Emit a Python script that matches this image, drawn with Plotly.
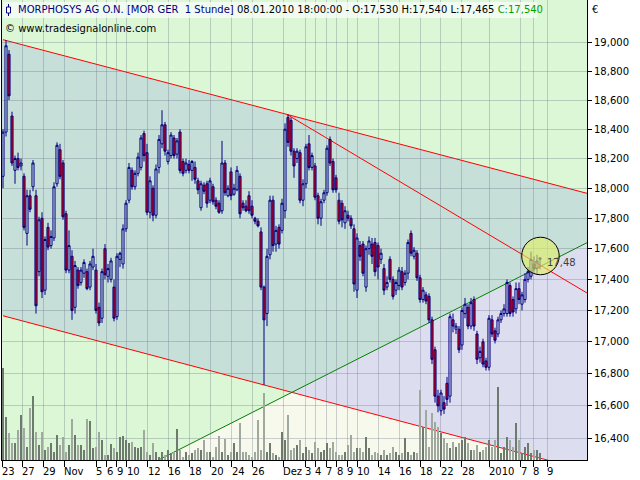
import math
import plotly.graph_objects as go

# ---------------- data ----------------
opens = [18.08, 18.38, 18.92, 18.49, 18.12, 18.20, 18.15, 18.08, 17.70, 17.95,
         18.01, 17.95, 17.45, 17.80, 17.33, 17.74, 17.62, 17.67, 18.03, 18.26,
         18.17, 17.83, 17.46, 17.55, 17.22, 17.46, 17.38, 17.44, 17.45, 17.35,
         17.48, 17.46, 17.22, 17.15, 17.60, 17.42, 17.40, 17.35, 17.16, 17.53,
         17.50, 17.73, 17.92, 18.12, 18.01, 18.10, 18.14, 18.37, 18.24, 17.84,
         18.00, 17.82, 18.14, 18.30, 18.43, 18.18, 18.22, 18.34, 18.23, 18.38,
         18.18, 18.12, 18.16, 18.12, 18.14, 18.05, 17.87, 18.02, 18.03, 17.92,
         18.01, 17.92, 17.90, 17.85, 18.17, 17.95, 18.11, 17.96, 17.99, 18.08,
         17.90, 17.88, 17.95, 17.88, 17.80, 17.78, 17.71, 17.35, 17.18, 17.56,
         17.92, 17.63, 17.74, 17.72, 17.85, 18.48, 18.46, 18.25, 18.20, 18.24,
         17.92, 18.03, 18.30, 18.14, 18.15, 17.95, 17.80, 17.92, 17.97, 18.33,
         18.18, 18.07, 17.92, 17.90, 17.77, 17.82, 17.80, 17.73, 17.33, 17.62,
         17.63, 17.35, 17.60, 17.63, 17.64, 17.62, 17.53, 17.47, 17.35, 17.53,
         17.40, 17.33, 17.36, 17.45, 17.38, 17.44, 17.70, 17.55, 17.57, 17.41,
         17.27, 17.30, 17.29, 17.14, 16.95, 16.66, 16.57, 16.62, 16.74, 16.66,
         17.14, 17.08, 17.08, 16.98, 17.18, 17.22, 17.10, 17.27, 17.05, 16.90,
         17.00, 16.88, 16.84, 17.14, 17.07, 17.05, 17.14, 17.18, 17.18, 17.36,
         17.27, 17.21, 17.34, 17.24, 17.27, 17.40, 17.42, 17.50, 17.47, 17.53]
highs = [18.40, 19.02, 18.95, 18.52, 18.22, 18.24, 18.20, 18.10, 17.99, 17.99,
         18.19, 17.99, 17.81, 17.84, 17.68, 17.77, 17.72, 18.04, 18.31, 18.30,
         18.19, 17.85, 17.72, 17.59, 17.52, 17.48, 17.48, 17.53, 17.47, 17.52,
         17.60, 17.50, 17.25, 17.47, 17.63, 17.50, 17.54, 17.40, 17.57, 17.58,
         17.76, 17.92, 18.17, 18.14, 18.12, 18.24, 18.36, 18.39, 18.30, 18.08,
         18.02, 18.16, 18.36, 18.53, 18.45, 18.26, 18.38, 18.36, 18.34, 18.40,
         18.20, 18.20, 18.19, 18.19, 18.18, 18.07, 18.05, 18.04, 18.05, 18.07,
         18.03, 17.94, 17.92, 18.32, 18.19, 18.02, 18.14, 18.03, 18.15, 18.10,
         17.92, 17.92, 17.98, 17.92, 17.81, 17.80, 17.74, 17.36, 17.60, 17.95,
         17.95, 17.75, 17.76, 17.93, 18.44, 18.50, 18.48, 18.27, 18.27, 18.26,
         18.06, 18.30, 18.36, 18.24, 18.17, 17.97, 17.93, 17.99, 18.29, 18.35,
         18.20, 18.09, 17.97, 17.92, 17.88, 17.85, 17.82, 17.76, 17.70, 17.65,
         17.65, 17.62, 17.68, 17.67, 17.67, 17.64, 17.60, 17.50, 17.42, 17.55,
         17.42, 17.40, 17.48, 17.48, 17.46, 17.66, 17.72, 17.61, 17.59, 17.43,
         17.35, 17.32, 17.31, 17.16, 16.97, 16.70, 16.70, 16.66, 16.78, 17.18,
         17.18, 17.12, 17.10, 17.22, 17.28, 17.24, 17.28, 17.29, 17.07, 16.97,
         17.02, 16.90, 17.17, 17.17, 17.09, 17.16, 17.20, 17.24, 17.40, 17.38,
         17.29, 17.38, 17.38, 17.32, 17.44, 17.48, 17.58, 17.55, 17.56, 17.54]
lows = [18.00, 18.35, 18.60, 18.15, 18.03, 18.12, 18.12, 17.72, 17.62, 17.84,
        17.98, 17.18, 17.42, 17.28, 17.30, 17.59, 17.60, 17.65, 18.01, 18.06,
        17.79, 17.44, 17.44, 17.14, 17.18, 17.34, 17.36, 17.41, 17.33, 17.33,
        17.46, 17.18, 17.10, 17.12, 17.40, 17.38, 17.38, 17.13, 17.14, 17.48,
        17.47, 17.71, 17.90, 17.99, 17.99, 18.08, 18.12, 18.18, 17.82, 17.80,
        17.78, 17.80, 18.10, 18.27, 18.22, 18.16, 18.20, 18.20, 18.20, 18.10,
        18.08, 18.10, 18.10, 18.05, 18.03, 17.96, 17.85, 17.96, 17.87, 17.90,
        17.89, 17.86, 17.83, 17.83, 17.95, 17.94, 17.92, 17.95, 17.98, 17.80,
        17.85, 17.84, 17.83, 17.80, 17.76, 17.74, 17.33, 16.73, 17.10, 17.53,
        17.58, 17.58, 17.60, 17.70, 17.80, 18.28, 18.22, 18.07, 18.17, 17.90,
        17.88, 18.00, 18.12, 18.12, 17.92, 17.76, 17.75, 17.90, 17.95, 18.15,
        17.97, 17.97, 17.76, 17.74, 17.73, 17.78, 17.73, 17.32, 17.28, 17.52,
        17.42, 17.32, 17.56, 17.50, 17.42, 17.40, 17.50, 17.30, 17.33, 17.38,
        17.27, 17.30, 17.33, 17.33, 17.36, 17.40, 17.55, 17.53, 17.39, 17.25,
        17.25, 17.24, 17.12, 16.86, 16.62, 16.56, 16.54, 16.55, 16.60, 16.62,
        17.06, 17.05, 16.93, 16.95, 17.15, 17.08, 17.08, 17.07, 16.86, 16.87,
        16.84, 16.82, 16.82, 17.03, 16.99, 17.03, 17.12, 17.16, 17.16, 17.16,
        17.16, 17.18, 17.24, 17.20, 17.25, 17.38, 17.40, 17.44, 17.43, 17.465]
closes = [18.38, 18.98, 18.63, 18.17, 18.20, 18.14, 18.17, 17.74, 17.95, 17.86,
          18.17, 17.23, 17.79, 17.32, 17.66, 17.61, 17.68, 18.01, 18.29, 18.08,
          17.81, 17.46, 17.62, 17.20, 17.49, 17.36, 17.46, 17.51, 17.34, 17.50,
          17.55, 17.20, 17.12, 17.45, 17.43, 17.47, 17.52, 17.15, 17.55, 17.57,
          17.73, 17.90, 18.14, 18.01, 18.10, 18.21, 18.34, 18.22, 17.84, 18.05,
          17.82, 18.13, 18.33, 18.43, 18.25, 18.24, 18.36, 18.22, 18.32, 18.12,
          18.10, 18.17, 18.12, 18.18, 18.06, 17.99, 18.03, 17.98, 17.90, 18.05,
          17.91, 17.88, 17.84, 18.17, 17.97, 18.00, 17.95, 18.00, 18.12, 17.83,
          17.87, 17.85, 17.85, 17.82, 17.78, 17.75, 17.35, 17.14, 17.55, 17.92,
          17.62, 17.72, 17.63, 17.90, 18.40, 18.31, 18.25, 18.15, 18.25, 17.92,
          18.03, 18.28, 18.14, 18.22, 17.94, 17.80, 17.91, 17.97, 18.27, 18.17,
          17.99, 17.99, 17.78, 17.79, 17.85, 17.80, 17.75, 17.37, 17.67, 17.55,
          17.44, 17.60, 17.65, 17.55, 17.45, 17.48, 17.57, 17.33, 17.38, 17.40,
          17.29, 17.38, 17.46, 17.35, 17.44, 17.64, 17.57, 17.59, 17.41, 17.27,
          17.33, 17.26, 17.14, 16.89, 16.66, 16.60, 16.68, 16.58, 16.64, 17.16,
          17.10, 17.10, 16.95, 17.20, 17.24, 17.10, 17.25, 17.10, 16.89, 16.94,
          16.86, 16.84, 17.15, 17.05, 17.01, 17.14, 17.18, 17.21, 17.38, 17.18,
          17.19, 17.34, 17.27, 17.30, 17.40, 17.45, 17.53, 17.47, 17.52, 17.54]
volumes = [92, 43, 27, 17, 17, 30, 45, 32, 13, 52,
           64, 28, 15, 28, 10, 13, 17, 8, 25, 15,
           23, 8, 15, 41, 25, 15, 15, 10, 41, 39,
           12, 13, 28, 20, 5, 5, 16, 12, 8, 23,
           24, 20, 17, 18, 13, 12, 13, 30, 8, 5,
           17, 8, 3, 8, 5, 10, 7, 8, 31, 10,
           3, 8, 5, 7, 10, 12, 10, 20, 8, 8,
           3, 13, 24, 8, 21, 5, 8, 17, 8, 37,
           8, 8, 5, 3, 8, 40, 10, 67, 8, 17,
           7, 5, 3, 28, 20, 45, 10, 12, 15, 20,
           7, 13, 10, 7, 18, 12, 8, 10, 17, 12,
           18, 8, 5, 5, 8, 15, 25, 8, 12, 12,
           8, 23, 12, 5, 8, 7, 5, 10, 5, 7,
           13, 8, 5, 7, 22, 8, 5, 8, 7, 70,
           33, 50, 13, 47, 38, 33, 27, 22, 17, 12,
           18, 13, 17, 20, 23, 17, 10, 10, 15, 8,
           10, 13, 20, 13, 20, 73, 7, 13, 23, 20,
           13, 37, 20, 7, 13, 17, 7, 10, 10, 7]

# date labels on the time axis (bar positions)
date_tick_pos = [-0.33, 6.43, 13.43, 20.43, 31.0, 34.57, 37.9, 41.23, 48.23, 55.1,
                 62.1, 69.23, 76.23, 83.1, 93.43, 100.67, 104.0, 107.67, 111.23, 114.77,
                 118.1, 125.1, 132.1, 139.0, 145.9, 152.9, 162.1, 172.57, 176.77, 181.43]
date_tick_labels = ["23", "27", "29", "Nov", "5", "6", "9", "10", "12", "16",
                    "18", "20", "24", "26", "Dez", "3", "4", "7", "8", "9",
                    "10", "14", "16", "18", "22", "28", "2010", "7", "8", "9"]
price_ticks = [16.4, 16.6, 16.8, 17.0, 17.2, 17.4, 17.6, 17.8, 18.0, 18.2, 18.4,
               18.6, 18.8, 19.0]

# drawing tools (bar position, price)
upper_channel = [(0.0, 19.023), (194.67, 17.966)]
lower_channel = [(0.0, 17.166), (194.67, 16.205)]
support_line = [(51.83, 16.269), (194.67, 17.639)]
resistance_line = [(94.67, 18.501), (194.67, 17.312)]
marker_level = 17.48
marker_circle_x = [172.9, 185.4]
marker_circle_y = [17.43, 17.675]

x_range = [-0.333, 194.667]
price_range = [16.269, 19.306]

title_name = "MORPHOSYS AG O.N. [MOR GER  1 Stunde]"
title_time = "08.01.2010 18:00:00"

# ---------------- helpers ----------------
def fmt3(v):
    return f"{v:.3f}".replace(".", ",")

def line_at(line, x):
    (x0, p0), (x1, p1) = line
    l0, l1 = math.log10(p0), math.log10(p1)
    return 10 ** (l0 + (l1 - l0) * (x - x0) / (x1 - x0))

def x_at(line, p):
    (x0, p0), (x1, p1) = line
    l0, l1 = math.log10(p0), math.log10(p1)
    return x0 + (math.log10(p) - l0) * (x1 - x0) / (l1 - l0)

def intersect(a, b):
    (ax0, ap0), (ax1, ap1) = a
    (bx0, bp0), (bx1, bp1) = b
    sa = (math.log10(ap1) - math.log10(ap0)) / (ax1 - ax0)
    sb = (math.log10(bp1) - math.log10(bp0)) / (bx1 - bx0)
    ia = math.log10(ap0) - sa * ax0
    ib = math.log10(bp0) - sb * bx0
    x = (ib - ia) / (sa - sb)
    return x, 10 ** (ia + sa * x)

def path(pts):
    return "M " + " L ".join(f"{x},{y}" for x, y in pts) + " Z"

idx = list(range(len(closes)))
W, H = 640, 480
ML, MR, MT, MB = 2, 53, 0, 20
PW, PH = W - ML - MR, H - MT - MB

def px(x):  # pixel -> paper x
    return (x - ML) / PW

def py(y):  # pixel -> paper y
    return (H - MB - y) / PH

GREEN_BG = "#DCF7D5"
TEAL = "#C6DFD9"
LAVENDER = "#DCDEEF"
CREAM = "#F6F9EC"

xl, xr = -2.0, 197.0
p_low = 15.9
inter = intersect(support_line, lower_channel)

shapes = []
# channel fill
shapes.append(dict(type="path", xref="x", yref="y2", layer="below", line=dict(width=0),
                   fillcolor=TEAL,
                   path=path([(xl, line_at(upper_channel, xl)), (xr, line_at(upper_channel, xr)),
                              (xr, line_at(lower_channel, xr)), (xl, line_at(lower_channel, xl))])))
# below support line
shapes.append(dict(type="path", xref="x", yref="y2", layer="below", line=dict(width=0),
                   fillcolor=CREAM,
                   path=path([(x_at(support_line, p_low), p_low), (xr, line_at(support_line, xr)),
                              (xr, p_low)])))
# below support and inside channel
shapes.append(dict(type="path", xref="x", yref="y2", layer="below", line=dict(width=0),
                   fillcolor=LAVENDER,
                   path=path([inter, (xr, line_at(support_line, xr)),
                              (xr, line_at(lower_channel, xr))])))

def seg(line, color):
    (x0, p0), (x1, p1) = line
    return dict(type="line", xref="x", yref="y2", layer="below",
                x0=x0, y0=p0, x1=x1, y1=p1, line=dict(color=color, width=1))

shapes.append(seg(upper_channel, "#FF0000"))
shapes.append(seg(lower_channel, "#FF0000"))
shapes.append(seg(resistance_line, "#FF0000"))
shapes.append(seg(support_line, "#008000"))
shapes.append(dict(type="line", xref="paper", yref="y2", layer="below",
                   x0=0, x1=1, y0=marker_level, y1=marker_level,
                   line=dict(color="#000000", width=1)))
shapes.append(dict(type="circle", xref="x", yref="y2", layer="above",
                   x0=marker_circle_x[0], x1=marker_circle_x[1],
                   y0=marker_circle_y[0], y1=marker_circle_y[1],
                   fillcolor="rgba(228,240,100,0.62)", line=dict(color="#000000", width=1)))
# header box + candle icon
shapes.append(dict(type="rect", xref="paper", yref="paper", layer="above",
                   x0=px(3), x1=px(537), y0=py(18), y1=py(2),
                   fillcolor="rgba(250,252,250,0.75)", line=dict(width=0)))
shapes.append(dict(type="line", xref="paper", yref="paper", layer="above",
                   x0=px(8.5), x1=px(8.5), y0=py(16), y1=py(4),
                   line=dict(color="#000080", width=1)))
shapes.append(dict(type="rect", xref="paper", yref="paper", layer="above",
                   x0=px(6.5), x1=px(10.5), y0=py(13), y1=py(7),
                   fillcolor="#FFFFFF", line=dict(color="#000080", width=1)))

vol_colors = ["rgb(110,122,110)" if c >= o else "rgb(160,168,160)" for o, c in zip(opens, closes)]

fig = go.Figure()
fig.add_trace(go.Bar(x=idx, y=volumes, width=0.4, marker=dict(color=vol_colors, line=dict(width=0)),
                     xaxis="x", yaxis="y", hoverinfo="skip", showlegend=False))
fig.add_trace(go.Candlestick(x=idx, open=opens, high=highs, low=lows, close=closes,
                             xaxis="x", yaxis="y2", whiskerwidth=0,
                             increasing=dict(line=dict(color="#000080", width=1),
                                             fillcolor="rgba(0,0,0,0)"),
                             decreasing=dict(line=dict(color="#000080", width=1),
                                             fillcolor="#E00000"),
                             hoverinfo="skip", showlegend=False))

FONT = "DejaVu Sans"
annotations = []
for pos, lab in zip(date_tick_pos, date_tick_labels):
    annotations.append(dict(x=pos, y=0, xref="x", yref="paper", text=lab, showarrow=False,
                            xanchor="left", yanchor="top", xshift=-2, yshift=-4,
                            font=dict(family=FONT, size=10, color="#000000")))
title_html = (f'<span style="color:#000080">{title_name}</span> {title_time} - '
              f'O:{fmt3(opens[-1])} H:{fmt3(highs[-1])} L:{fmt3(lows[-1])} '
              f'<span style="color:#00A000">C:{fmt3(closes[-1])}</span>')
annotations.append(dict(x=px(16), y=py(10), xref="paper", yref="paper", text=title_html,
                        showarrow=False, xanchor="left", yanchor="middle",
                        font=dict(family=FONT, size=10, color="#000000")))
annotations.append(dict(x=px(3), y=py(29), xref="paper", yref="paper",
                        text="© www.tradesignalonline.com", showarrow=False,
                        xanchor="left", yanchor="middle",
                        font=dict(family=FONT, size=10, color="#000000")))
annotations.append(dict(x=px(590), y=py(10), xref="paper", yref="paper", text="€",
                        showarrow=False, xanchor="left", yanchor="middle",
                        font=dict(family=FONT, size=10, color="#000000")))
annotations.append(dict(x=180.5, y=math.log10(17.51), xref="x", yref="y2",
                        text=f"{marker_level:.2f}".replace(".", ","), showarrow=False,
                        xanchor="left", yanchor="middle",
                        font=dict(family=FONT, size=10, color="#404040")))

GRID = "rgba(95,105,125,0.30)"
fig.update_layout(
    width=W, height=H, autosize=False,
    margin=dict(l=ML, r=MR, t=MT, b=MB, pad=0),
    paper_bgcolor="#FFFFFF", plot_bgcolor=GREEN_BG,
    showlegend=False, shapes=shapes, annotations=annotations,
    xaxis=dict(type="linear", range=x_range, rangeslider=dict(visible=False),
               tickvals=date_tick_pos, showticklabels=False, ticks="outside",
               ticklen=6, tickcolor="#000000", showgrid=True, gridcolor=GRID, gridwidth=1,
               showline=True, linecolor="#000000", linewidth=1, zeroline=False, fixedrange=True),
    yaxis=dict(range=[0, PH], visible=False, showgrid=False, fixedrange=True),
    yaxis2=dict(type="log", overlaying="y", side="right",
                range=[math.log10(price_range[0]), math.log10(price_range[1])],
                tickvals=price_ticks, ticktext=[fmt3(v) for v in price_ticks],
                ticks="outside", ticklen=4, tickcolor="#000000",
                tickfont=dict(family=FONT, size=10, color="#000000"),
                showgrid=True, gridcolor=GRID, gridwidth=1,
                showline=True, mirror=True, linecolor="#000000", linewidth=1,
                zeroline=False, fixedrange=True),
    boxgap=0.0,
)

fig.write_html("out.html", config={"displayModeBar": False},
               post_script="document.body.style.margin='0';")
